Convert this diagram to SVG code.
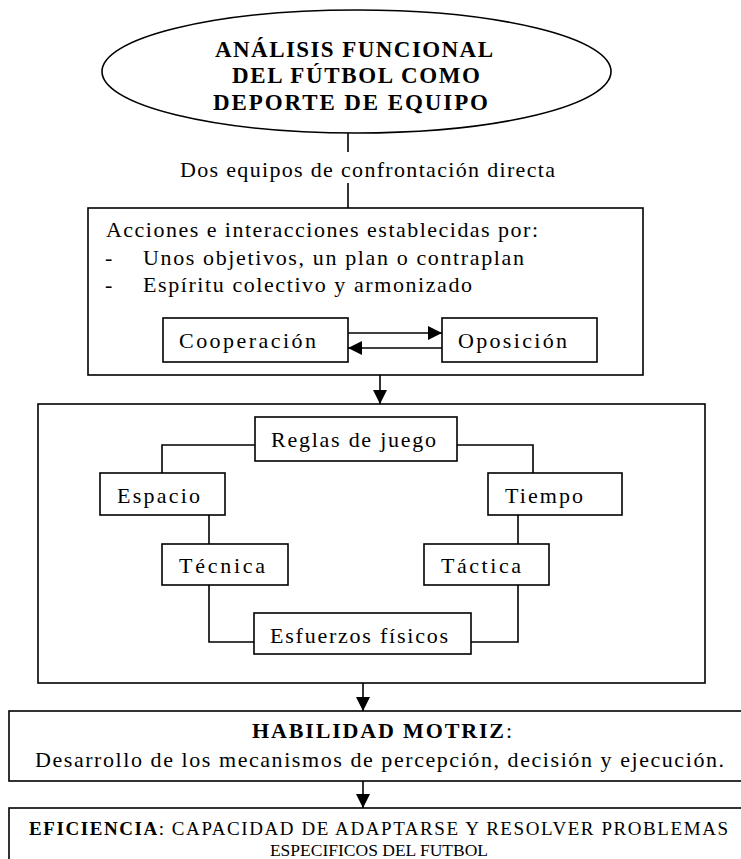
<svg xmlns="http://www.w3.org/2000/svg" width="741" height="859" viewBox="0 0 741 859">
<defs>
<style>
.box{fill:#fff;stroke:#000;stroke-width:1.6}
.ln{fill:none;stroke:#000;stroke-width:1.6}
text{font-family:"Liberation Serif","Times New Roman",serif;font-size:22px;fill:#000}
.b{font-weight:bold}
.t{font-size:23px;font-weight:bold}
.s{font-size:19px}
.s2{font-size:17.5px}
</style>
<marker id="ah" markerWidth="14" markerHeight="14" refX="14" refY="7" orient="auto" markerUnits="userSpaceOnUse">
<path d="M0,0 L14,7 L0,14 Z" fill="#000"/>
</marker>
</defs>
<rect width="741" height="859" fill="#fff"/>

<g id="analisis">
<ellipse class="box" cx="356.5" cy="71.5" rx="254.5" ry="61.5"/>
<text class="t" x="215" y="57" textLength="278" lengthAdjust="spacing">ANÁLISIS FUNCIONAL</text>
<text class="t" x="232" y="83" textLength="248" lengthAdjust="spacing">DEL FÚTBOL COMO</text>
<text class="t" x="213" y="110" textLength="275" lengthAdjust="spacing">DEPORTE DE EQUIPO</text>
</g>

<g id="acciones">
<rect class="box" x="88" y="208" width="555" height="167"/>
<text x="106" y="237" textLength="432" lengthAdjust="spacing">Acciones e interacciones establecidas por:</text>
<text x="105" y="265">-</text>
<text x="143" y="265" textLength="381" lengthAdjust="spacing">Unos objetivos, un plan o contraplan</text>
<text x="105" y="292">-</text>
<text x="143" y="292" textLength="329" lengthAdjust="spacing">Espíritu colectivo y armonizado</text>
</g>

<g id="cooperacion">
<rect class="box" x="163" y="318" width="185" height="44"/>
<text x="179" y="348" textLength="137" lengthAdjust="spacing">Cooperación</text>
</g>

<g id="oposicion">
<rect class="box" x="442" y="318" width="155" height="44"/>
<text x="458" y="348" textLength="109" lengthAdjust="spacing">Oposición</text>
</g>

<g id="marco">
<rect class="box" x="38" y="404" width="667" height="279"/>
</g>

<g id="reglas">
<rect class="box" x="255" y="417" width="202" height="44"/>
<text x="271" y="447" textLength="165" lengthAdjust="spacing">Reglas de juego</text>
</g>

<g id="espacio">
<rect class="box" x="100" y="473" width="125" height="42"/>
<text x="117" y="503" textLength="83" lengthAdjust="spacing">Espacio</text>
</g>

<g id="tiempo">
<rect class="box" x="488" y="473" width="134" height="42"/>
<text x="505" y="503" textLength="78" lengthAdjust="spacing">Tiempo</text>
</g>

<g id="tecnica">
<rect class="box" x="162" y="544" width="126" height="41"/>
<text x="179" y="573" textLength="86" lengthAdjust="spacing">Técnica</text>
</g>

<g id="tactica">
<rect class="box" x="424" y="544" width="125" height="41"/>
<text x="441" y="573" textLength="80" lengthAdjust="spacing">Táctica</text>
</g>

<g id="esfuerzos">
<rect class="box" x="254" y="613" width="217" height="41"/>
<text x="270" y="643" textLength="178" lengthAdjust="spacing">Esfuerzos físicos</text>
</g>

<g id="habilidad">
<rect class="box" x="9" y="711" width="760" height="70"/>
<text x="252" y="738" textLength="260" lengthAdjust="spacing"><tspan class="b">HABILIDAD MOTRIZ</tspan>:</text>
<text x="35" y="767" textLength="689" lengthAdjust="spacing">Desarrollo de los mecanismos de percepción, decisión y ejecución.</text>
</g>

<g id="eficiencia">
<rect class="box" x="9" y="808" width="760" height="80"/>
<text class="s" x="29" y="835" textLength="699" lengthAdjust="spacing"><tspan class="b">EFICIENCIA</tspan>: CAPACIDAD DE ADAPTARSE Y RESOLVER PROBLEMAS</text>
<text class="s2" x="379" y="856" text-anchor="middle">ESPECIFICOS DEL FUTBOL</text>
</g>

<g id="connectors">
<path class="ln" d="M348,133 V152"/>
<text x="180" y="177" textLength="375" lengthAdjust="spacing">Dos equipos de confrontación directa</text>
<path class="ln" d="M348,183 V208"/>
<path class="ln" d="M348,333 H442" marker-end="url(#ah)"/>
<path class="ln" d="M442,348 H348" marker-end="url(#ah)"/>
<path class="ln" d="M380,375 V404" marker-end="url(#ah)"/>
<path class="ln" d="M255,445 H162 V473"/>
<path class="ln" d="M457,445 H533 V473"/>
<path class="ln" d="M209,515 V544"/>
<path class="ln" d="M518,515 V544"/>
<path class="ln" d="M209,585 V642 H254"/>
<path class="ln" d="M518,585 V642 H471"/>
<path class="ln" d="M363,683 V711" marker-end="url(#ah)"/>
<path class="ln" d="M363,781 V808" marker-end="url(#ah)"/>
</g>
</svg>
